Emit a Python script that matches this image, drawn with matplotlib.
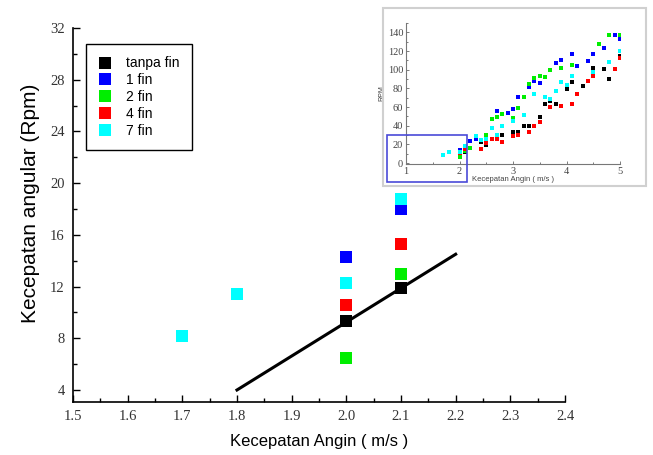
import matplotlib
matplotlib.use("Agg")
import matplotlib.pyplot as plt
from matplotlib.patches import Rectangle
from matplotlib.lines import Line2D
from matplotlib.ticker import MultipleLocator

# ---------------- main chart data ----------------
series_names = ["tanpa fin", "1 fin", "2 fin", "4 fin", "7 fin"]
series_colors = ["#000000", "#0000ff", "#00ee00", "#ff0000", "#00ffff"]

x_tanpa = [2.0, 2.1]
y_tanpa = [9.3, 11.9]
x_1fin = [2.0, 2.1]
y_1fin = [14.3, 18.0]
x_2fin = [2.0, 2.1]
y_2fin = [6.5, 13.0]
x_4fin = [2.0, 2.1]
y_4fin = [10.6, 15.3]
x_7fin = [1.7, 1.8, 2.0, 2.1]
y_7fin = [8.2, 11.4, 12.3, 18.8]

trend_x = [1.8, 2.2]
trend_y = [4.0, 14.5]

# ---------------- inset data ----------------
in_x_tanpa = [2.0, 2.1, 2.4, 2.5, 2.8, 3.0, 3.1, 3.2, 3.3, 3.5, 3.6, 3.7, 3.8, 4.0, 4.1, 4.3, 4.5, 4.7, 4.8, 5.0]
in_y_tanpa = [9.3, 11.9, 22.3, 19.8, 30.4, 32.9, 32.9, 39.6, 39.6, 49.8, 62.9, 66.1, 63.6, 78.8, 87.3, 82.4, 102, 100.7, 90.5, 115]
in_x_1fin = [2.0, 2.1, 2.2, 2.3, 2.7, 2.9, 3.0, 3.1, 3.3, 3.4, 3.5, 3.8, 3.9, 4.1, 4.2, 4.4, 4.5, 4.7, 4.9, 5.0]
in_y_1fin = [14.3, 18.0, 23.3, 25.5, 55.5, 54.0, 57.6, 70.7, 81.7, 88.4, 85.9, 107, 110, 117, 103.6, 109.6, 117, 123.4, 137.5, 132.5]
in_x_2fin = [2.0, 2.1, 2.2, 2.5, 2.6, 2.7, 2.8, 3.0, 3.1, 3.2, 3.3, 3.4, 3.5, 3.6, 3.7, 3.9, 4.1, 4.6, 4.8, 5.0]
in_y_2fin = [6.5, 13.0, 16.3, 30.4, 46.7, 49.8, 52.3, 48.4, 58.7, 70.7, 84.8, 90.8, 93.0, 92.3, 100, 101.8, 104.6, 127, 137.5, 137.5]
in_x_4fin = [2.0, 2.1, 2.4, 2.5, 2.6, 2.7, 2.8, 3.0, 3.1, 3.3, 3.4, 3.5, 3.7, 3.9, 4.1, 4.2, 4.4, 4.5, 4.9, 5.0]
in_y_4fin = [10.6, 15.3, 15.2, 21.2, 25.8, 25.8, 23.0, 29.3, 30.0, 32.9, 39.6, 44.2, 60.1, 61.2, 63.6, 74.2, 88.4, 93.0, 100.7, 112.8]
in_x_7fin = [1.7, 1.8, 2.0, 2.1, 2.3, 2.4, 2.5, 2.6, 2.7, 2.8, 3.0, 3.2, 3.4, 3.6, 3.7, 3.8, 3.9, 4.0, 4.1, 4.5, 4.8, 5.0]
in_y_7fin = [8.2, 11.4, 12.3, 18.8, 28.6, 25.0, 25.8, 37.1, 30.4, 40.0, 45.2, 51.6, 74.2, 70.7, 68.9, 77.0, 86.6, 84.0, 93.0, 97.2, 107.8, 120]

main_x = [x_tanpa, x_1fin, x_2fin, x_4fin, x_7fin]
main_y = [y_tanpa, y_1fin, y_2fin, y_4fin, y_7fin]
in_x = [in_x_tanpa, in_x_1fin, in_x_2fin, in_x_4fin, in_x_7fin]
in_y = [in_y_tanpa, in_y_1fin, in_y_2fin, in_y_4fin, in_y_7fin]

W, H = 653, 455
fig = plt.figure(figsize=(W / 100, H / 100), dpi=100)

serif = "Liberation Serif"
sans = "Liberation Sans"

# ---------------- main axes ----------------
ax = fig.add_axes([73 / W, 1 - 402 / H, (565 - 73) / W, (402 - 28) / H])
for name, xs, ys, c in zip(series_names, main_x, main_y, series_colors):
    ax.plot(xs, ys, linestyle="none", marker="s", markersize=8, color=c,
            markeredgewidth=0, label=name, zorder=3)
ax.plot(trend_x, trend_y, color="black", linewidth=2.2, zorder=2)

ax.set_xlim(1.5, 2.4)
ax.set_ylim(3.07, 32)
ax.set_xticks([1.5 + 0.1 * i for i in range(10)])
ax.set_xticklabels(["1.5", "1.6", "1.7", "1.8", "1.9", "2.0", "2.1", "2.2", "2.3", "2.4"])
ax.set_yticks([4, 8, 12, 16, 20, 24, 28, 32])
ax.set_yticklabels(["4", "8", "12", "16", "20", "24", "28", "32"])
ax.xaxis.set_minor_locator(MultipleLocator(0.05))
ax.yaxis.set_minor_locator(MultipleLocator(2))
ax.tick_params(which="major", direction="in", length=5, width=1, labelsize=10.5, pad=6)
ax.tick_params(which="minor", direction="in", length=3, width=1)
for lab in ax.get_xticklabels() + ax.get_yticklabels():
    lab.set_fontfamily(serif)
    lab.set_color("#333333")
ax.spines["top"].set_visible(False)
ax.spines["right"].set_visible(False)
for s in ["left", "bottom"]:
    ax.spines[s].set_linewidth(1.2)
ax.set_xlabel("Kecepatan Angin ( m/s )", fontsize=12, fontfamily=sans, labelpad=8)
ax.set_ylabel("Kecepatan angular (Rpm)", fontsize=15, fontfamily=sans)
ax.yaxis.set_label_coords(-0.068, 0.53)

handles = [Line2D([], [], linestyle="none", marker="s", markersize=8, color=c,
                  markeredgewidth=0) for c in series_colors]
leg = fig.legend(handles, series_names, loc="upper left",
                 bbox_to_anchor=(86 / W, 1 - 44 / H), frameon=True, fancybox=False,
                 edgecolor="black", framealpha=1, prop={"family": sans, "size": 10},
                 labelspacing=0.2, handlelength=1.0, handletextpad=1.0,
                 borderpad=0.9, borderaxespad=0)
leg.get_frame().set_linewidth(1.0)

# ---------------- inset ----------------
fig.patches.append(Rectangle((383 / W, 1 - 186 / H), (646 - 383) / W, (186 - 8) / H,
                             transform=fig.transFigure, fill=False,
                             edgecolor="#d0d0d0", linewidth=1.5))
axi = fig.add_axes([406 / W, 1 - 164 / H, (620 - 406) / W, (164 - 23) / H])
for xs, ys, c in zip(in_x, in_y, series_colors):
    axi.plot(xs, ys, linestyle="none", marker="s", markersize=3.3, color=c,
             markeredgewidth=0)
axi.set_xlim(1, 5)
axi.set_ylim(-1, 150)
axi.set_xticks([1, 2, 3, 4, 5])
axi.set_xticklabels(["1", "2", "3", "4", "5"])
axi.set_yticks([0, 20, 40, 60, 80, 100, 120, 140])
axi.set_yticklabels(["0", "20", "40", "60", "80", "100", "120", "140"])
axi.xaxis.set_minor_locator(MultipleLocator(0.5))
axi.yaxis.set_minor_locator(MultipleLocator(10))
axi.tick_params(which="major", direction="in", length=2.5, width=0.6, labelsize=7.5, pad=2,
                colors="#666666", labelcolor="#444444")
axi.tick_params(which="minor", direction="in", length=1.5, width=0.6, colors="#666666")
for lab in axi.get_xticklabels() + axi.get_yticklabels():
    lab.set_fontfamily(serif)
axi.spines["top"].set_visible(False)
axi.spines["right"].set_visible(False)
for s in ["left", "bottom"]:
    axi.spines[s].set_linewidth(0.8)
    axi.spines[s].set_color("#777777")
axi.set_xlabel("Kecepatan Angin ( m/s )", fontsize=5.5, fontfamily=sans, labelpad=0.5, color="#444444")
axi.set_ylabel("RPM", fontsize=5, fontfamily=sans, labelpad=2, color="#444444")

fig.patches.append(Rectangle((387 / W, 1 - 182 / H), (467 - 387) / W, (182 - 135) / H,
                             transform=fig.transFigure, fill=False,
                             edgecolor="#4a4ad8", linewidth=1.2, zorder=10))

fig.savefig("out.png", dpi=100)
